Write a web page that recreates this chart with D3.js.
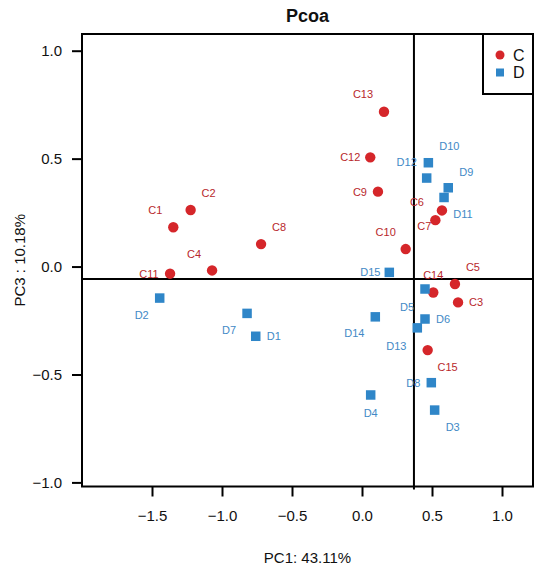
<!DOCTYPE html>
<html>
<head>
<meta charset="utf-8">
<script src="https://cdn.jsdelivr.net/npm/d3@7"></script>
<style>
  html, body { margin: 0; padding: 0; background: #fff; }
  svg { display: block; font-family: "Liberation Sans", Arial, Helvetica, sans-serif; }
</style>
</head>
<body>
<svg id="chart" width="538" height="572"></svg>
<script>
// ---------------- data ----------------
const sampleNames = ["C1","C2","C3","C4","C5","C6","C7","C8","C9","C10","C11","C12","C13","C14","C15",
                     "D1","D2","D3","D4","D5","D6","D7","D8","D9","D10","D11","D12","D13","D14","D15"];
const groups      = ["C","C","C","C","C","C","C","C","C","C","C","C","C","C","C",
                     "D","D","D","D","D","D","D","D","D","D","D","D","D","D","D"];
const pc1Values   = [-1.348,-1.224,0.686,-1.071,0.664,0.571,0.524,-0.721,0.114,0.312,-1.371,0.059,0.157,0.509,0.469,
                     -0.759,-1.445,0.519,0.062,0.450,0.450,-0.821,0.495,0.616,0.474,0.586,0.462,0.395,0.095,0.195];
const pc3Values   = [0.182,0.262,-0.166,-0.018,-0.081,0.260,0.215,0.104,0.347,0.081,-0.033,0.506,0.717,-0.120,-0.387,
                     -0.323,-0.146,-0.665,-0.595,-0.104,-0.243,-0.217,-0.538,0.365,0.481,0.320,0.410,-0.284,-0.233,-0.027];
const xTicks = [-1.5, -1.0, -0.5, 0.0, 0.5, 1.0];
const yTicks = [-1.0, -0.5, 0.0, 0.5, 1.0];
const crossPC1 = 0.371;   // vertical reference line
const crossPC3 = -0.058;  // horizontal reference line
const legendGroups = ["C", "D"];
const chartTitle = "Pcoa";
const xTitle = "PC1: 43.11%";
const yTitle = "PC3 : 10.18%";

// label nudges (pixels) – layout only
const labelNudge = {
  C1:[-18,-17], C2:[18,-17], C3:[18,0], C4:[-18,-16], C5:[18,-17], C6:[-25,-8], C7:[-11,6], C8:[18,-17],
  C9:[-18,0], C10:[-20,-17], C11:[-21,0], C12:[-20,0], C13:[-21,-18], C14:[0,-17], C15:[20,17],
  D1:[18,0], D2:[-18,17], D3:[18,17], D4:[0,18], D5:[-18,18], D6:[18,0], D7:[-18,17], D8:[-18,0],
  D9:[18,-16], D10:[21,-17], D11:[19,17], D12:[-20,-16], D13:[-21,18], D14:[-21,16], D15:[-19,0]
};

// ---------------- layout ----------------
const box = { left: 82, right: 533, top: 34, bottom: 486.5 };
const fillColor  = { C: "#d5262a", D: "#2f86c8" };
const labelColor = { C: "#b8282c", D: "#4289c6" };

const x = d3.scaleLinear().domain([-2.0, 1.2214]).range([box.left, box.right]);
const y = d3.scaleLinear().domain([-1.0190, 1.0774]).range([box.bottom, box.top]);

const svg = d3.select("#chart");
const points = sampleNames.map((n, i) => ({ name: n, group: groups[i], pc1: pc1Values[i], pc3: pc3Values[i] }));

// axes
const xAxis = svg.append("g")
  .attr("transform", `translate(0,${box.bottom})`)
  .call(d3.axisBottom(x).tickValues(xTicks).tickSize(10).tickPadding(14).tickFormat(d3.format(".1f")));
const yAxis = svg.append("g")
  .attr("transform", `translate(${box.left},0)`)
  .call(d3.axisLeft(y).tickValues(yTicks).tickSize(10).tickPadding(10).tickFormat(d3.format(".1f")));
[xAxis, yAxis].forEach(g => {
  g.select(".domain").remove();
  g.selectAll(".tick line").attr("stroke", "#000").attr("stroke-width", 2);
  g.selectAll(".tick text").attr("fill", "#111").style("font-size", "15px")
    .style("font-family", "'Liberation Sans', Arial, sans-serif");
});

// reference lines
svg.append("line")
  .attr("x1", x(crossPC1)).attr("x2", x(crossPC1))
  .attr("y1", box.top).attr("y2", box.bottom + 3)
  .attr("stroke", "#000").attr("stroke-width", 2);
svg.append("line")
  .attr("x1", box.left).attr("x2", box.right)
  .attr("y1", y(crossPC3)).attr("y2", y(crossPC3))
  .attr("stroke", "#000").attr("stroke-width", 2);

// plot box
svg.append("rect")
  .attr("x", box.left).attr("y", box.top)
  .attr("width", box.right - box.left).attr("height", box.bottom - box.top)
  .attr("fill", "none").attr("stroke", "#000").attr("stroke-width", 2);

// points
const sq = 9.5;
points.forEach(p => {
  if (p.group === "C") {
    svg.append("circle").attr("cx", x(p.pc1)).attr("cy", y(p.pc3)).attr("r", 5.2)
      .attr("fill", fillColor.C);
  } else {
    svg.append("rect").attr("x", x(p.pc1) - sq / 2).attr("y", y(p.pc3) - sq / 2)
      .attr("width", sq).attr("height", sq).attr("fill", fillColor.D);
  }
});

// labels
points.forEach(p => {
  const nd = labelNudge[p.name] || [0, -17];
  svg.append("text")
    .attr("x", x(p.pc1) + nd[0]).attr("y", y(p.pc3) + nd[1])
    .attr("text-anchor", "middle").attr("dominant-baseline", "central")
    .attr("fill", labelColor[p.group])
    .style("font-size", "11px")
    .text(p.name);
});

// legend
const lg = { left: 483, top: 34, bottom: 94 };
svg.append("rect")
  .attr("x", lg.left).attr("y", lg.top)
  .attr("width", box.right - lg.left).attr("height", lg.bottom - lg.top)
  .attr("fill", "#fff").attr("stroke", "#000").attr("stroke-width", 2);
legendGroups.forEach((g, i) => {
  const cy = 55 + i * 17.5;
  if (g === "C") {
    svg.append("circle").attr("cx", 500).attr("cy", cy).attr("r", 4.5).attr("fill", fillColor.C);
  } else {
    svg.append("rect").attr("x", 496).attr("y", cy - 4).attr("width", 8).attr("height", 8).attr("fill", fillColor.D);
  }
  svg.append("text").attr("x", 513).attr("y", cy).attr("dominant-baseline", "central")
    .attr("fill", "#111").style("font-size", "16px").text(g);
});

// titles
svg.append("text").attr("x", (box.left + box.right) / 2).attr("y", 16)
  .attr("text-anchor", "middle").attr("dominant-baseline", "central")
  .style("font-size", "18px").style("font-weight", "bold").attr("fill", "#111").text(chartTitle);
svg.append("text").attr("x", (box.left + box.right) / 2).attr("y", 557)
  .attr("text-anchor", "middle").attr("dominant-baseline", "central")
  .style("font-size", "15px").attr("fill", "#111").text(xTitle);
svg.append("text").attr("transform", `translate(19,${(box.top + box.bottom) / 2}) rotate(-90)`)
  .attr("text-anchor", "middle").attr("dominant-baseline", "central")
  .style("font-size", "15px").attr("fill", "#111").text(yTitle);
</script>
</body>
</html>
